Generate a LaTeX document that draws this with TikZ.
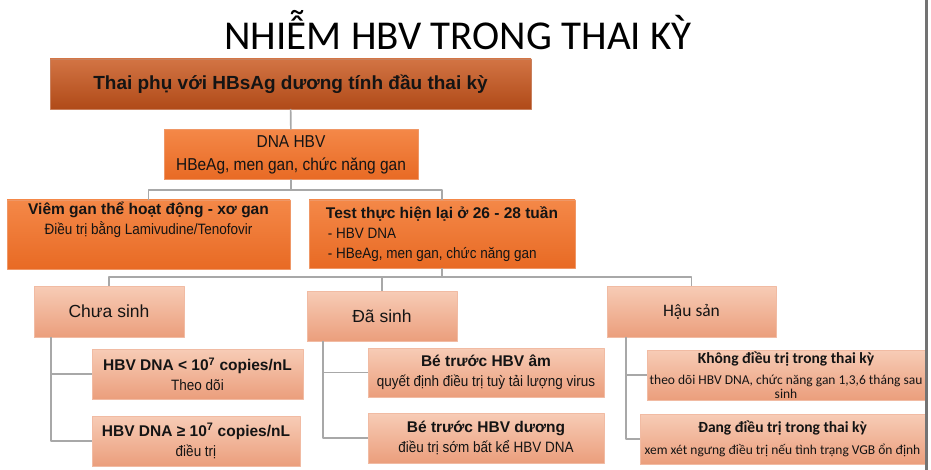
\documentclass[tikz,border=0pt]{standalone}
\usepackage{fontspec}
\setmainfont{Liberation Sans}
\newfontfamily\narrowfont{Liberation Sans}[FakeStretch=0.9]
\newfontfamily\calibfont{Carlito}
\usetikzlibrary{positioning,calc}

\definecolor{darktop}{RGB}{210,116,68}
\definecolor{darkbot}{RGB}{176,74,24}
\definecolor{ortop}{RGB}{244,136,72}
\definecolor{orbot}{RGB}{232,106,36}
\definecolor{pinktop}{RGB}{247,204,182}
\definecolor{pinkbot}{RGB}{235,158,124}
\definecolor{linkgray}{RGB}{168,168,168}
\definecolor{txtcol}{RGB}{20,20,20}

\newcommand{\headtxt}[1]{{\rmfamily\bfseries\fontsize{15.5}{20}\selectfont #1}}

\tikzset{
  anybox/.style={inner sep=0pt, outer sep=0pt, text=txtcol},
  darkbox/.style={anybox, draw=darkbot!70!white, top color=darktop, bottom color=darkbot},
  orbox/.style={anybox, draw=orbot!70!white, top color=ortop, bottom color=orbot},
  pinkbox/.style={anybox, draw=pinkbot!70!white, top color=pinktop, bottom color=pinkbot},
  link/.style={draw=linkgray, line width=1.6pt},
  smallfont/.style={font=\narrowfont\fontsize{15}{20}\selectfont}
}

\begin{document}
\begin{tikzpicture}[x=1pt, y=-1pt, line join=round]
\useasboundingbox (0,0) rectangle (931,470);

\node[anchor=base, text=black, font=\calibfont\fontsize{41}{41}\selectfont] (title) at (458,50) {NHIỄM HBV TRONG THAI KỲ};

\node[darkbox, minimum width=481, minimum height=50, font=\bfseries\fontsize{19}{23}\selectfont] (thai) at (290.5,84) {Thai phụ với HBsAg dương tính đầu thai kỳ};
\node[orbox, minimum width=254, minimum height=50, align=center, font=\narrowfont\fontsize{17.2}{23}\selectfont] (dna) at (291,154.5) {DNA HBV\\HBeAg, men gan, chức năng gan};

\node[orbox, minimum width=283, minimum height=69] (viem) at (148.5,234.5) {};
\node[anybox, anchor=north, align=center, smallfont] (viemtxt) at ([yshift=-2]viem.north) {\headtxt{Viêm gan thể hoạt động - xơ gan}\\Điều trị bằng Lamivudine/Tenofovir};
\node[orbox, minimum width=266, minimum height=68, align=left, smallfont] (test) at (442,234) {\headtxt{Test thực hiện lại ở 26 - 28 tuần}\\\hspace{2pt}- HBV DNA\\\hspace{2pt}- HBeAg, men gan, chức năng gan};

\node[pinkbox, minimum width=150, minimum height=51, font=\fontsize{17.5}{21}\selectfont] (chua) at (109,311.5) {Chưa sinh};
\node[pinkbox, minimum width=150, minimum height=50, font=\fontsize{17.5}{21}\selectfont] (dasinh) at (382,316) {Đã sinh};
\node[pinkbox, minimum width=169, minimum height=51, font=\calibfont\fontsize{17.5}{21}\selectfont] (hausan) at (691.5,311.5) {Hậu sản};

\node[pinkbox, minimum width=211, minimum height=50, align=center, smallfont] (lt) at (197.5,374) {\headtxt{HBV DNA < 10\textsuperscript{7} copies/nL}\\Theo dõi};
\node[pinkbox, minimum width=208, minimum height=50, align=center, smallfont] (ge) at (196,441) {\headtxt{HBV DNA ≥ 10\textsuperscript{7} copies/nL}\\điều trị};
\node[pinkbox, minimum width=236, minimum height=49, align=center, smallfont] (am) at (486,372.5) {\headtxt{Bé trước HBV âm}\\quyết định điều trị tuỳ tải lượng virus};
\node[pinkbox, minimum width=236, minimum height=50, align=center, smallfont] (duong) at (486,438) {\headtxt{Bé trước HBV dương}\\điều trị sớm bất kể HBV DNA};
\node[pinkbox, minimum width=278, minimum height=50, align=center, font=\calibfont\fontsize{13.5}{14}\selectfont] (khong) at (786,375) {{\bfseries\fontsize{15.5}{20}\selectfont Không điều trị trong thai kỳ}\\[7pt]theo dõi HBV DNA, chức năng gan 1,3,6 tháng sau\\sinh};
\node[pinkbox, minimum width=285, minimum height=50, align=center, font=\calibfont\fontsize{13.5}{22}\selectfont] (dang) at (782.5,439) {{\bfseries\fontsize{15.5}{22}\selectfont Đang điều trị trong thai kỳ}\\xem xét ngưng điều trị nếu tình trạng VGB ổn định};

\coordinate (busA) at (0,190);
\coordinate (busB) at (0,277);
\draw[link] (thai) -- (dna);
\draw[link] (dna.south) -- (dna.south |- busA) -| (viem.north);
\draw[link] (dna.south |- busA) -| (test.north);
\draw[link] (test.south) -- (test.south |- busB) -| (chua.north);
\draw[link] (test.south |- busB) -| (dasinh.north);
\draw[link] (test.south |- busB) -| (hausan.north);
\draw[link] ([xshift=17]chua.south west) |- (lt.west);
\draw[link] ([xshift=17]chua.south west) |- (ge.west);
\draw[link] ([xshift=16]dasinh.south west) |- (am.west);
\draw[link] ([xshift=16]dasinh.south west) |- (duong.west);
\draw[link] ([xshift=19]hausan.south west) |- (khong.west);
\draw[link] ([xshift=19]hausan.south west) |- (dang.west);

\draw[line width=3pt, draw=gray!90!black] (926.5,0) -- (926.5,470);
\end{tikzpicture}
\end{document}
